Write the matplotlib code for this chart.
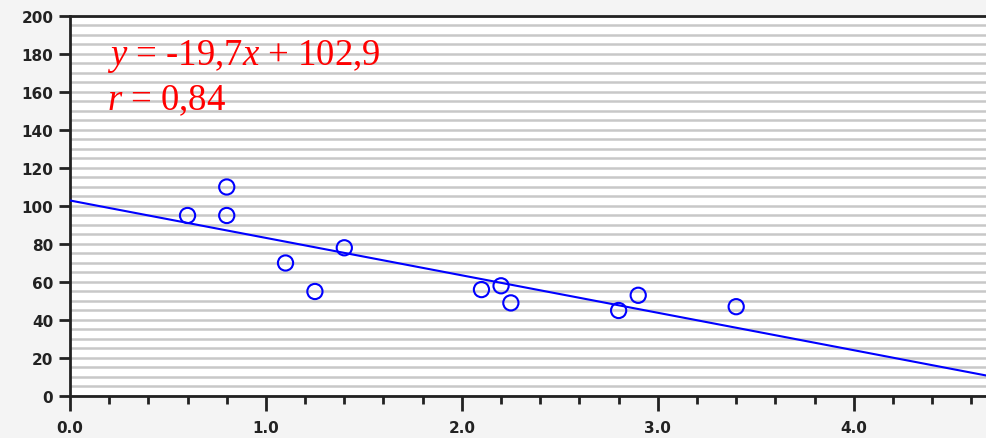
import matplotlib.pyplot as plt
from matplotlib.ticker import MultipleLocator, FormatStrFormatter

plt.rcParams['mathtext.fontset'] = 'custom'
plt.rcParams['mathtext.it'] = 'Liberation Serif:italic'
plt.rcParams['mathtext.rm'] = 'Liberation Serif'

# measured points
x_vals = [0.6, 0.8, 0.8, 1.1, 1.25, 1.4, 2.1, 2.2, 2.25, 2.8, 2.9, 3.4]
y_vals = [95, 110, 95, 70, 55, 78, 56, 58, 49, 45, 53, 47]

# regression line
slope = -19.7
intercept = 102.9
r_value = 0.84

x_max = 4.68

fig = plt.figure(figsize=(9.87, 4.39), dpi=100, facecolor='#f4f4f4')
ax = fig.add_axes([0.0709, 0.0957, 0.9291, 0.8656])
ax.set_facecolor('white')

ax.plot([0, x_max], [intercept, intercept + slope * x_max], color='blue', lw=1.5, zorder=3)
ax.scatter(x_vals, y_vals, s=120, facecolors='none', edgecolors='blue', linewidths=1.5, zorder=4)

ax.set_xlim(0, x_max)
ax.set_ylim(0, 200)
ax.xaxis.set_major_locator(MultipleLocator(1.0))
ax.xaxis.set_minor_locator(MultipleLocator(0.2))
ax.xaxis.set_major_formatter(FormatStrFormatter('%.1f'))
ax.yaxis.set_major_locator(MultipleLocator(20))
ax.yaxis.set_minor_locator(MultipleLocator(5))

ax.grid(True, axis='y', which='both', color='#c8c8c8', lw=1.8, zorder=0)
ax.set_axisbelow(True)

for side in ['left', 'bottom', 'top']:
    ax.spines[side].set_color('#222222')
    ax.spines[side].set_linewidth(2)
ax.spines['right'].set_visible(False)

ax.tick_params(axis='x', which='major', length=11, width=2, color='#222222', pad=6)
ax.tick_params(axis='x', which='minor', length=6, width=2, color='#222222')
ax.tick_params(axis='y', which='major', length=8, width=2, color='#222222', pad=4)
ax.tick_params(axis='y', which='minor', length=0)
for lbl in ax.get_xticklabels() + ax.get_yticklabels():
    lbl.set_fontsize(11)
    lbl.set_fontweight('bold')
    lbl.set_color('#222222')

eq = r'$y$ = %s$x$ + %s' % (str(slope).replace('.', ','), str(intercept).replace('.', ','))
ax.text(0.04, 0.895, eq, transform=ax.transAxes, color='red', fontsize=26.5,
        family='Liberation Serif', va='center', ha='left')
ax.text(0.04, 0.78, r'$r$ = ' + str(r_value).replace('.', ','), transform=ax.transAxes,
        color='red', fontsize=26.5, family='Liberation Serif', va='center', ha='left')

fig.savefig('out.png', dpi=100, facecolor=fig.get_facecolor())
